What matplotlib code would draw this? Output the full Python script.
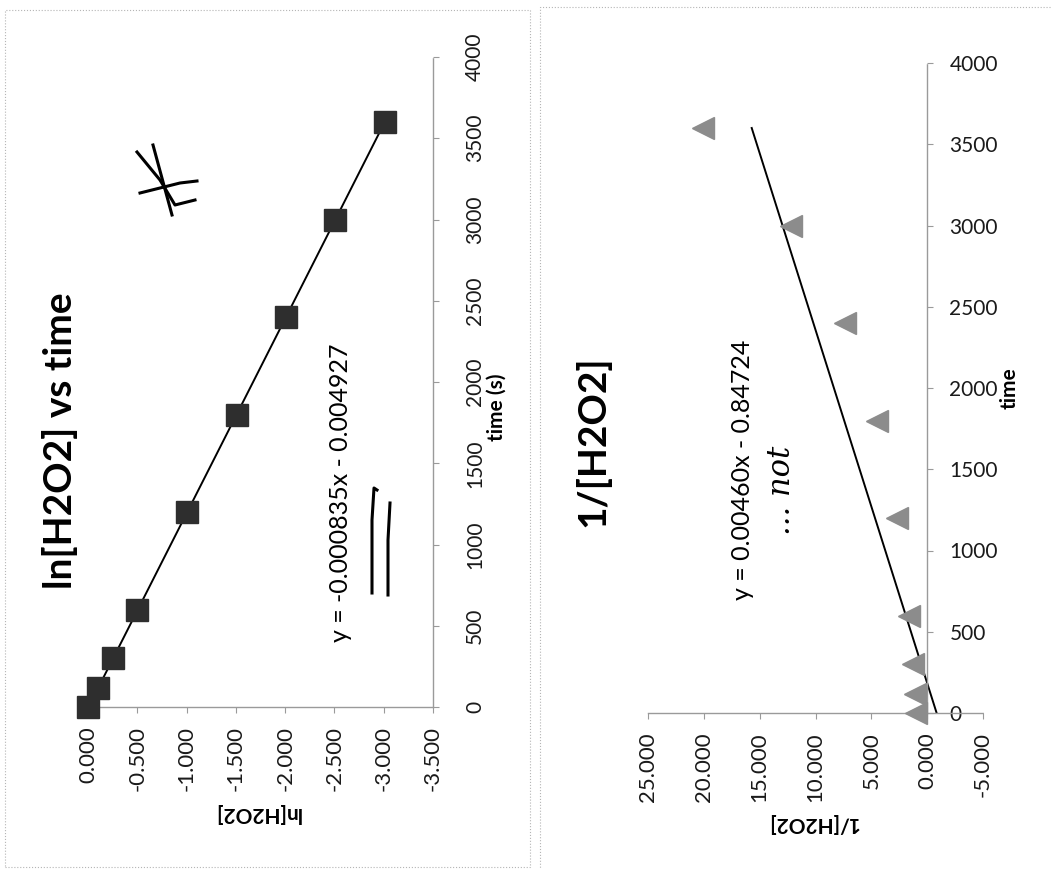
import matplotlib
matplotlib.use("Agg")
import matplotlib.pyplot as plt
from matplotlib.lines import Line2D
from matplotlib.patches import Rectangle
import numpy as np

plt.rcParams['font.family'] = ['Lato', 'DejaVu Sans']

# data
time_s = [0, 120, 300, 600, 1200, 1800, 2400, 3000, 3600]
ln_h2o2 = [0.0, -0.10, -0.25, -0.50, -1.00, -1.51, -2.01, -2.51, -3.01]
inv_h2o2 = [1.0, 1.1, 1.28, 1.65, 2.7, 4.5, 7.4, 12.2, 20.1]

# trendline coefficients as printed on the charts
ln_slope, ln_icpt = -0.000835, -0.004927
inv_slope, inv_icpt = 0.00460, -0.84724

time_ticks = list(range(0, 4001, 500))
ln_ticks = [0.0, -0.5, -1.0, -1.5, -2.0, -2.5, -3.0, -3.5]
inv_ticks = [25, 20, 15, 10, 5, 0, -5]

W, H = 1052, 869
fig = plt.figure(figsize=(W / 100, H / 100), dpi=100)


def fx(px):
    return px / W


def fy(py):
    return 1 - py / H


def style_axes(ax):
    for s in ['left', 'top']:
        ax.spines[s].set_visible(False)
    for s in ['bottom', 'right']:
        ax.spines[s].set_color('#9a9a9a')
        ax.spines[s].set_linestyle((0, (1, 1)))
        ax.spines[s].set_linewidth(1.0)
    ax.yaxis.tick_right()
    ax.tick_params(axis='both', colors='#9a9a9a', labelcolor='#1a1a1a',
                   length=4, width=0.8, labelsize=16)
    ax.tick_params(axis='y', labelsize=15)
    ax.set_yticks(time_ticks)
    ax.set_ylim(0, 4000)
    plt.setp(ax.get_xticklabels(), rotation=90)
    plt.setp(ax.get_yticklabels(), rotation=90, va='center')
    ax.patch.set_alpha(0)


# --- ln[H2O2] vs time ---
ax1 = fig.add_axes([fx(88), fy(707), fx(345), 650 / H])
ax1.plot(ln_h2o2, time_s, 's', color='#2e2e2e', markersize=16, clip_on=False, zorder=3)
t_end = max(time_s)
ax1.plot([ln_icpt, ln_slope * t_end + ln_icpt], [0, t_end], color='black', lw=1.4, zorder=2)
ax1.set_xlim(0, -3.5)
ax1.set_xticks(ln_ticks)
ax1.set_xticklabels([f"{v:.3f}" for v in ln_ticks])
style_axes(ax1)
ax1.tick_params(axis='x', pad=10)
ax1.tick_params(axis='y', pad=19)

# --- 1/[H2O2] ---
ax2 = fig.add_axes([fx(648), fy(713), fx(335), 650 / H])
ax2.plot(inv_h2o2, time_s, '<', color='#8c8c8c', markersize=16, clip_on=False, zorder=3)
ax2.plot([inv_icpt, inv_slope * t_end + inv_icpt], [0, t_end], color='black', lw=1.4, zorder=2)
ax2.set_xlim(25, -5)
ax2.set_xticks(inv_ticks)
ax2.set_xticklabels([f"{v:.3f}" for v in inv_ticks])
style_axes(ax2)
ax2.spines['right'].set_position(('data', 0))
ax2.tick_params(axis='x', pad=10)
ax2.tick_params(axis='y', pad=12)

# titles, axis titles, trendline equations
fig.text(fx(60), fy(441), "ln[H2O2] vs time", rotation=90, ha='center', va='center',
         fontsize=28, weight='bold')
fig.text(fx(592), fy(441), "1/[H2O2]", rotation=90, ha='center', va='center',
         fontsize=28, weight='bold')
fig.text(fx(497), fy(407), "time (s)", rotation=90, ha='center', va='center',
         fontsize=15, weight='bold')
fig.text(fx(1010), fy(388), "time", rotation=90, ha='center', va='center',
         fontsize=15, weight='bold')
fig.text(fx(257), fy(813), "ln[H2O2]", rotation=180, ha='center', va='center',
         fontsize=15, weight='bold')
fig.text(fx(813), fy(823), "1/[H2O2]", rotation=180, ha='center', va='center',
         fontsize=15, weight='bold')
fig.text(fx(340), fy(493), f"y = {ln_slope:.6f}x - {abs(ln_icpt):.6f}", rotation=90,
         ha='center', va='center', fontsize=18)
fig.text(fx(742), fy(470), f"y = {inv_slope:.5f}x - {abs(inv_icpt):.5f}", rotation=90,
         ha='center', va='center', fontsize=18)

# handwritten marks on the scan
fig.text(fx(782), fy(490), "... not", rotation=90, ha='center', va='center',
         fontsize=22, style='italic', family='DejaVu Serif')
pen = [
    [(377, 490), (374, 488), (372, 520), (372, 593)],
    [(390, 503), (388, 540), (388, 595)],
    [(153, 145), (172, 215)],
    [(137, 152), (160, 180), (175, 205), (195, 200)],
    [(140, 193), (180, 183), (197, 181)],
]
for stroke in pen:
    xs = [fx(p[0]) for p in stroke]
    ys = [fy(p[1]) for p in stroke]
    fig.add_artist(Line2D(xs, ys, transform=fig.transFigure, color='black', lw=2.2))

# chart frames
for x0, y0, x1, y1 in [(5, 10, 530, 867), (540, 7, 1060, 875)]:
    fig.add_artist(Rectangle((fx(x0), fy(y1)), fx(x1 - x0), (y1 - y0) / H,
                             transform=fig.transFigure, fill=False,
                             edgecolor='#b5b5b5', lw=0.8, linestyle=':'))

fig.savefig("out.png", dpi=100)
